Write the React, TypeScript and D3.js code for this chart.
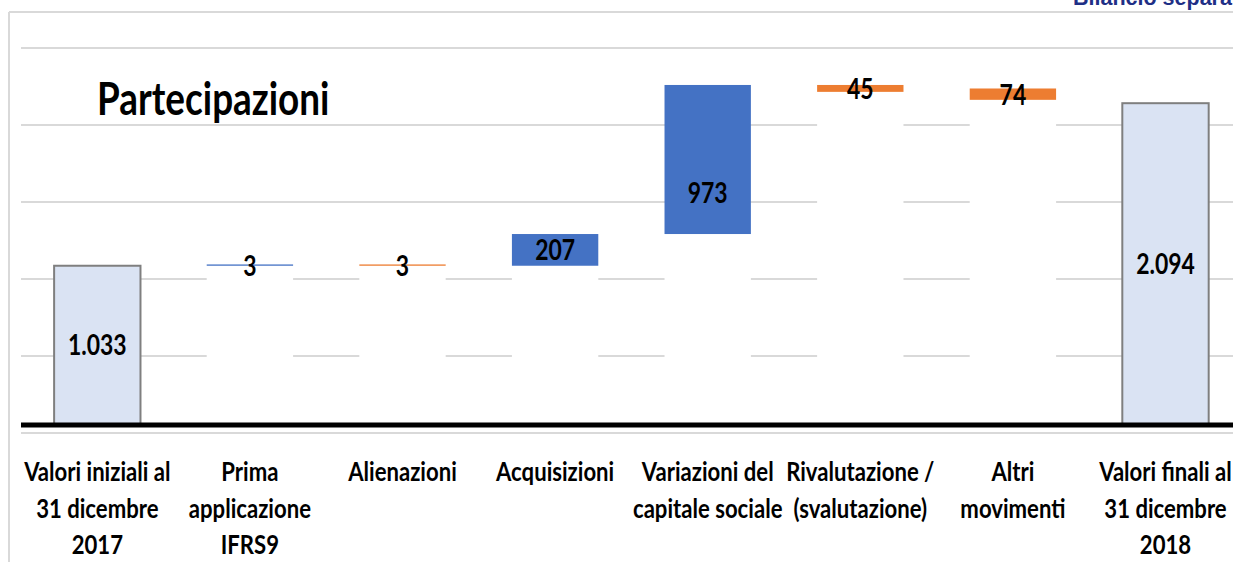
import React from "react";
import * as d3 from "d3";

const categories: string[][] = [
  ["Valori iniziali al", "31 dicembre", "2017"],
  ["Prima", "applicazione", "IFRS9"],
  ["Alienazioni"],
  ["Acquisizioni"],
  ["Variazioni del", "capitale sociale"],
  ["Rivalutazione /", "(svalutazione)"],
  ["Altri", "movimenti"],
  ["Valori finali al", "31 dicembre", "2018"],
];
// amount of each step (sign gives direction)
const amounts = [1033, 3, -3, 207, 973, -45, -74, 2094];
// bottom of each visible bar (white invisible base below it)
const baseValues = [0, 1033, 1033, 1033, 1240, 2168, 2116, 0];
const kinds = ["total", "up", "down", "up", "up", "down", "down", "total"];
const labels = ["1.033", "3", "3", "207", "973", "45", "74", "2.094"];
// where the label sits (data units), null = middle of the bar
const labelAt: (number | null)[] = [null, null, null, null, 1508, null, null, null];
const gridRows = [0, 1, 2, 3, 4, 5];

const W = 1233;
const H = 562;
const FONT = "Lato, 'Open Sans', sans-serif";
const SX = 0.82;
const COLORS: Record<string, string> = { total: "#DAE3F3", up: "#4472C4", down: "#ED7D31" };

function T(props: { x: number; y: number; size: number; anchor?: string; children: React.ReactNode; fill?: string }) {
  return (
    <text
      transform={`translate(${props.x},${props.y}) scale(${SX},1)`}
      textAnchor={props.anchor ?? "middle"}
      fontFamily={FONT}
      fontWeight="bold"
      fontSize={props.size}
      fill={props.fill ?? "#000"}
    >
      {props.children}
    </text>
  );
}

export default function App() {
  React.useEffect(() => {
    document.body.style.margin = "0";
    document.body.style.overflow = "hidden";
  }, []);

  const x = d3
    .scaleBand<number>()
    .domain(d3.range(categories.length))
    .range([21, 21 + 152.6 * categories.length])
    .paddingInner(0.434)
    .paddingOuter(0.217);
  const y = d3.scaleLinear().domain([0, 2500]).range([424, 424 - 2500 * 0.1532]);
  const grid = d3.scaleLinear().domain([0, 5]).range([433, 48]);
  const bw = x.bandwidth();
  const cx = (i: number) => (x(i) as number) + bw / 2;

  return (
    <svg width={W} height={H} style={{ position: "absolute", left: 0, top: 0, background: "#fff" }}>
      <rect x={0} y={0} width={W} height={H} fill="#fff" />
      {/* frame */}
      <line x1={9} x2={W} y1={12} y2={12} stroke="#D9D9D9" strokeWidth={2} />
      <line x1={9} x2={9} y1={12} y2={H} stroke="#D9D9D9" strokeWidth={2} />
      <text x={1073} y={5} fontFamily="'Liberation Sans', Arial, sans-serif" fontWeight="bold" fontSize={21.5} fill="#1F2F86">
        Bilancio separato
      </text>
      {/* gridlines */}
      {gridRows.map((g) => (
        <line key={g} x1={21} x2={W} y1={grid(g)} y2={grid(g)} stroke="#D9D9D9" strokeWidth={2} />
      ))}
      {/* white invisible bases */}
      {amounts.map((a, i) =>
        kinds[i] === "total" ? null : (
          <rect key={"b" + i} x={x(i)} width={bw} y={y(baseValues[i])} height={y(0) - y(baseValues[i])} fill="#fff" />
        )
      )}
      {/* visible bars */}
      {amounts.map((a, i) => {
        const top = y(baseValues[i] + Math.abs(a));
        const bot = y(baseValues[i]);
        const h = Math.max(bot - top, 1.3);
        const isTotal = kinds[i] === "total";
        return (
          <rect
            key={"v" + i}
            x={x(i)}
            width={bw}
            y={bot - h}
            height={h}
            fill={COLORS[kinds[i]]}
            stroke={isTotal ? "#7F7F7F" : "none"}
            strokeWidth={isTotal ? 2 : 0}
          />
        );
      })}
      {/* baseline */}
      <line x1={21} x2={W} y1={425} y2={425} stroke="#000" strokeWidth={5} />
      {/* data labels */}
      {amounts.map((a, i) => {
        const mid = labelAt[i] ?? baseValues[i] + Math.abs(a) / 2;
        return (
          <T key={"l" + i} x={cx(i)} y={y(mid) + 10.5} size={28}>
            {labels[i]}
          </T>
        );
      })}
      {/* title */}
      <T x={97} y={115} size={45} anchor="start">
        Partecipazioni
      </T>
      {/* category labels */}
      {categories.map((lines, i) =>
        lines.map((ln, j) => (
          <T key={"c" + i + "-" + j} x={cx(i)} y={481 + j * 36.5} size={27}>
            {ln}
          </T>
        ))
      )}
    </svg>
  );
}
